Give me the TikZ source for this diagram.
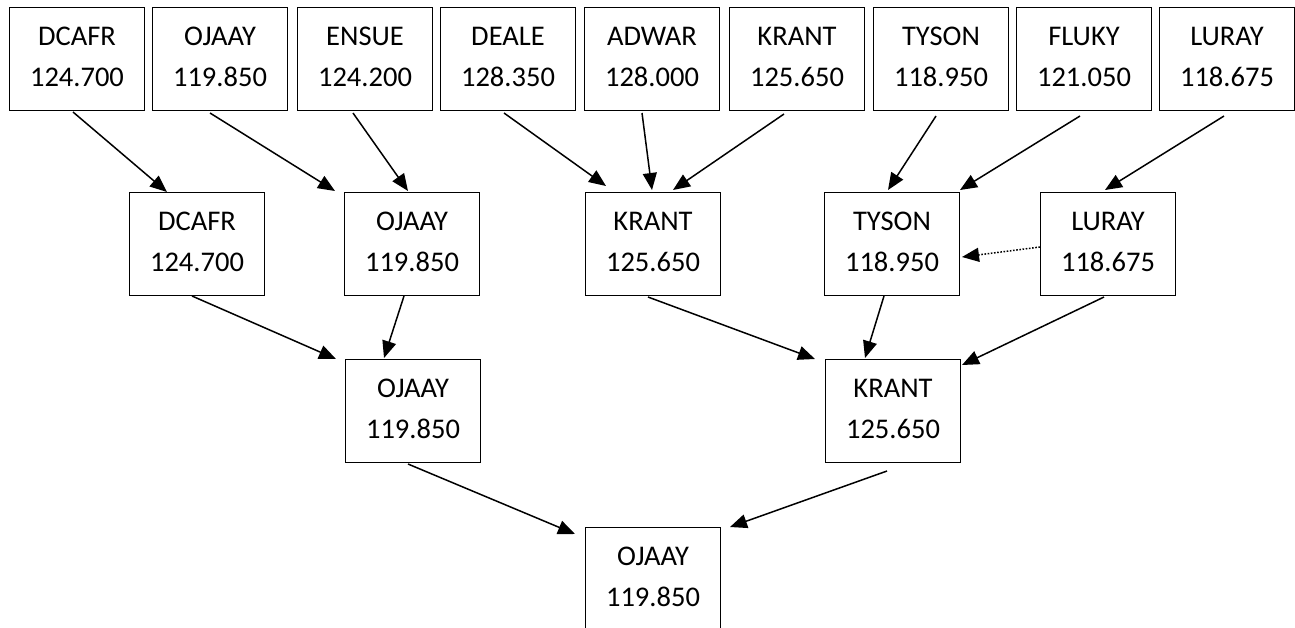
\documentclass[tikz,border=0pt]{standalone}
\usepackage{fontspec}
\setmainfont{Carlito}
\usetikzlibrary{arrows.meta,calc}
\newcommand{\bx}[2]{#1\\#2\rule[-4pt]{0pt}{4pt}}
\begin{document}
\begin{tikzpicture}[x=1pt,y=-1pt,
  box/.style={draw,line width=1pt,minimum width=135pt,minimum height=103pt,inner sep=0pt,anchor=north west,align=center,font=\fontsize{28.5}{41}\selectfont},
  arr/.style={line width=1.5pt,-{Triangle[length=17pt,width=14pt]}},
  dotarr/.style={arr,dash pattern=on 1.6pt off 1.6pt}]
\clip (0,0) rectangle (1295,627);
\fill[white] (0,0) rectangle (1295,627);
% level 1
\node[box] (a1) at (9,7)    {\bx{DCAFR}{124.700}};
\node[box] (a2) at (152,7)  {\bx{OJAAY}{119.850}};
\node[box] (a3) at (297,7)  {\bx{ENSUE}{124.200}};
\node[box] (a4) at (440,7)  {\bx{DEALE}{128.350}};
\node[box] (a5) at (584,7)  {\bx{ADWAR}{128.000}};
\node[box] (a6) at (729,7)  {\bx{KRANT}{125.650}};
\node[box] (a7) at (873,7)  {\bx{TYSON}{118.950}};
\node[box] (a8) at (1016,7) {\bx{FLUKY}{121.050}};
\node[box] (a9) at (1159,7) {\bx{LURAY}{118.675}};
% level 2
\node[box] (b1) at (129,192)  {\bx{DCAFR}{124.700}};
\node[box] (b2) at (344,192)  {\bx{OJAAY}{119.850}};
\node[box] (b3) at (585,192)  {\bx{KRANT}{125.650}};
\node[box] (b4) at (824,192)  {\bx{TYSON}{118.950}};
\node[box] (b5) at (1040,192) {\bx{LURAY}{118.675}};
% level 3
\node[box] (c1) at (345,359) {\bx{OJAAY}{119.850}};
\node[box] (c2) at (825,359) {\bx{KRANT}{125.650}};
% level 4
\node[box] (d1) at (585,527) {\bx{OJAAY}{119.850}};
% arrows level 1 -> 2
\draw[arr] ($(a1.south west)+(64,1)$) -- ($(b1.north west)+(38,0)$);
\draw[arr] ($(a2.south west)+(58,2)$) -- ($(b2.north west)+(-9,-1)$);
\draw[arr] ($(a3.south west)+(56,2)$) -- ($(b2.north west)+(64,-1)$);
\draw[arr] ($(a4.south west)+(64,2)$) -- ($(b3.north west)+(21,-6)$);
\draw[arr] ($(a5.south west)+(58,2)$) -- ($(b3.north west)+(67,-2)$);
\draw[arr] ($(a6.south west)+(55,3)$) -- ($(b3.north west)+(88,-2)$);
\draw[arr] ($(a7.south west)+(63,5)$) -- ($(b4.north west)+(64,-2)$);
\draw[arr] ($(a8.south west)+(64,5)$) -- ($(b4.north west)+(136,-2)$);
\draw[arr] ($(a9.south west)+(65,5)$) -- ($(b5.north west)+(65,-2)$);
\draw[dotarr] ($(b5.north west)+(0,55)$) -- ($(b4.north west)+(138,65)$);
% level 2 -> 3
\draw[arr] ($(b1.south west)+(63,0)$) -- ($(c1.north west)+(-9,0)$);
\draw[arr] ($(b2.south west)+(60,0)$) -- ($(c1.north west)+(39,-1)$);
\draw[arr] ($(b3.south west)+(63,1)$) -- ($(c2.north west)+(-10,0)$);
\draw[arr] ($(b4.south west)+(60,0)$) -- ($(c2.north west)+(40,-1)$);
\draw[arr] ($(b5.south west)+(64,1)$) -- ($(c2.north west)+(137,6)$);
% level 3 -> 4
\draw[arr] ($(c1.south west)+(63,1)$) -- ($(d1.north west)+(-10,7)$);
\draw[arr] ($(c2.south west)+(62,8)$) -- ($(d1.north west)+(145,0)$);
\end{tikzpicture}
\end{document}
